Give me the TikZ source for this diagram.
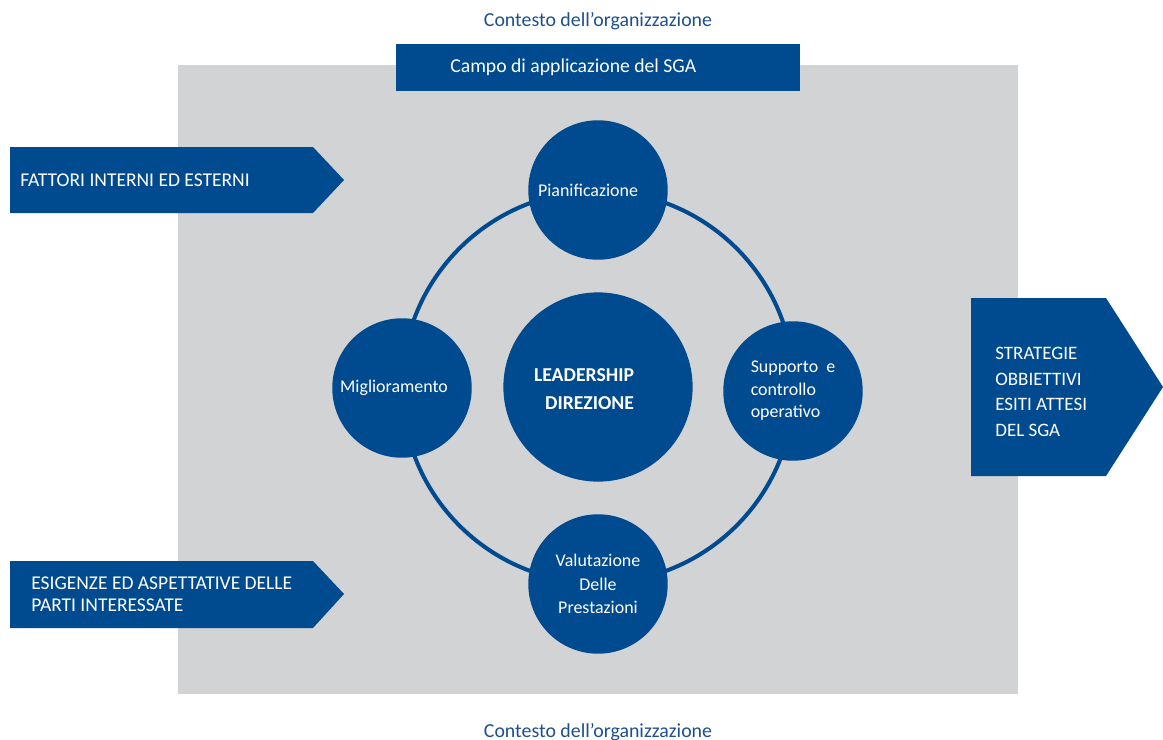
\documentclass[tikz,border=0pt]{standalone}
\usepackage{fontspec}
\setmainfont{Carlito}
\usetikzlibrary{positioning}

\definecolor{sgablue}{HTML}{004A8F}
\definecolor{sgatitle}{HTML}{1D4F8E}
\definecolor{sgagray}{HTML}{D2D3D5}

\newlength{\px}
\setlength{\px}{0.5669pt}
\tikzset{
	phase/.style={circle, fill=sgablue, minimum size=140\px, inner sep=0pt,
		text=white, font=\fontsize{10.2}{13}\selectfont, align=center},
	hub/.style={circle, fill=sgablue, minimum size=190\px, inner sep=0pt},
	ring/.style={draw=sgablue, line width=2.3pt},
	arrowtext/.style={text=white, anchor=west, align=left, inner sep=0pt},
	context/.style={text=sgatitle, font=\fontsize{11.3}{14}\selectfont}
}

\begin{document}
\begin{tikzpicture}[x=0.02cm, y=-0.02cm]
	\useasboundingbox (0,0) rectangle (1163,740);
	% scope of the management system
	\fill[sgagray] (178,65) rectangle (1018,694);
	\node[context] (ctxtop) at (598,21) {Contesto dell’organizzazione};
	\node[context, anchor=base] (ctxbot) at (598,737) {Contesto dell’organizzazione};
	\fill[sgablue] (396,44) rectangle (800,91);
	\node[text=white, anchor=west, inner sep=0pt, font=\fontsize{11.2}{14}\selectfont]
		(campo) at (450,67.5) {Campo di applicazione del SGA};

	% inputs and outputs
	\fill[sgablue] (10,147) -- (313,147) -- (344,180) -- (313,213) -- (10,213) -- cycle;
	\node[arrowtext, font=\fontsize{11.1}{14}\selectfont] (fattori) at (20,180)
		{FATTORI INTERNI ED ESTERNI};
	\fill[sgablue] (10,561) -- (313,561) -- (344,594) -- (313,628) -- (10,628) -- cycle;
	\node[arrowtext, font=\fontsize{11.1}{12.6}\selectfont] (esigenze) at (31,594)
		{ESIGENZE ED ASPETTATIVE DELLE\\ PARTI INTERESSATE};
	\fill[sgablue] (971,298) -- (1106,298) -- (1163,387) -- (1106,476) -- (971,476) -- cycle;
	\node[arrowtext, font=\fontsize{10.8}{14.5}\selectfont] (esiti) at (995,392)
		{STRATEGIE\\OBBIETTIVI\\ESITI ATTESI\\DEL SGA};

	% PDCA cycle
	\node[hub] (lead) at (598,387) {};
	\draw[ring] (lead.center) circle[radius=196];
	\node[text=white, align=right, font=\bfseries\fontsize{11.2}{16}\selectfont]
		(leadtext) at (584,389) {LEADERSHIP\\DIREZIONE};
	\node[phase] (plan) at (598,190) {Pianificazione\hspace{20\px}};
	\node[phase, align=left, font=\fontsize{10.2}{12.8}\selectfont] (supp) at (793,391)
		{Supporto~ e\\controllo\\operativo};
	\node[phase, font=\fontsize{10.2}{13.3}\selectfont] (check) at (598,584)
		{Valutazione\\Delle\\Prestazioni};
	\node[phase] (act) at (402,388) {Miglioramento\hspace{16\px}};
\end{tikzpicture}
\end{document}
